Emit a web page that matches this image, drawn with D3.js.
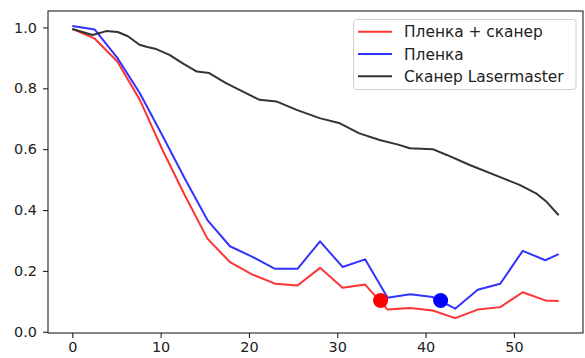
<!DOCTYPE html>
<html>
<head>
<meta charset="utf-8">
<script src="https://cdn.jsdelivr.net/npm/d3@7"></script>
<style>
  html, body { margin: 0; padding: 0; background: #fff; }
  svg { display: block; font-family: "DejaVu Sans", sans-serif; }
</style>
</head>
<body>
<svg id="chart" width="585" height="358"></svg>
<script>
// Shared sample positions for the film curves
const filmX = [0, 2.55, 5.1, 7.65, 10.2, 12.75, 15.3, 17.85, 20.4, 22.95, 25.5,
  28.05, 30.6, 33.15, 35.7, 38.25, 40.8, 43.35, 45.9, 48.45, 51.0, 53.55, 55.07];

// "Пленка + сканер"
const filmScanY = [0.995, 0.963, 0.888, 0.762, 0.598, 0.448, 0.306, 0.229, 0.188, 0.158,
  0.152, 0.210, 0.145, 0.155, 0.073, 0.078, 0.070, 0.045, 0.073, 0.081, 0.130, 0.103, 0.101];

// "Пленка"
const filmY = [1.005, 0.993, 0.900, 0.784, 0.645, 0.503, 0.367, 0.281, 0.246, 0.207,
  0.207, 0.297, 0.213, 0.238, 0.112, 0.123, 0.114, 0.076, 0.138, 0.158, 0.266, 0.235, 0.255];

// "Сканер Lasermaster"
const scannerX = [0, 2.3, 3.85, 5.15, 6.3, 7.6, 8.5, 9.5, 11.0, 12.6, 14.1, 15.5, 17.4,
  21.2, 23.1, 25.4, 28.0, 30.3, 32.5, 34.8, 36.9, 38.2, 40.8, 42.4, 45.0, 48.8, 50.7,
  52.5, 53.7, 55.07];
const scannerY = [0.995, 0.975, 0.988, 0.985, 0.971, 0.943, 0.936, 0.929, 0.910, 0.880,
  0.855, 0.850, 0.817, 0.762, 0.757, 0.729, 0.702, 0.685, 0.652, 0.630, 0.615, 0.603,
  0.600, 0.581, 0.548, 0.504, 0.482, 0.455, 0.427, 0.383];

// Highlighted points
const markerX = [34.9, 41.7];
const markerY = [0.103, 0.103];
const markerColors = ["#ff0000", "#0000ff"];

const seriesNames = ["Пленка + сканер", "Пленка", "Сканер Lasermaster"];
const seriesColors = ["#ff3333", "#3333ff", "#333333"];

const xTicks = [0, 10, 20, 30, 40, 50];
const yTicks = [0.0, 0.2, 0.4, 0.6, 0.8, 1.0];

const frame = { left: 48, top: 11, right: 583, bottom: 333 };

const svg = d3.select("#chart");

const x = d3.scaleLinear().domain([-2.75, 57.82]).range([frame.left, frame.right]);
const y = d3.scaleLinear().domain([-0.004, 1.054]).range([frame.bottom, frame.top]);

// Axes
const xAxis = d3.axisBottom(x).tickValues(xTicks).tickSize(5).tickPadding(4)
  .tickFormat(d3.format("d"));
const yAxis = d3.axisLeft(y).tickValues(yTicks).tickSize(5).tickPadding(6)
  .tickFormat(d3.format(".1f"));

const gx = svg.append("g").attr("transform", `translate(0,${frame.bottom})`).call(xAxis);
const gy = svg.append("g").attr("transform", `translate(${frame.left},0)`).call(yAxis);
[gx, gy].forEach(g => {
  g.select(".domain").remove();
  g.selectAll(".tick line").attr("stroke", "#222").attr("stroke-width", 1.1);
  g.selectAll(".tick text").attr("fill", "#222").style("font-size", "14.4px")
    .style("font-family", "'DejaVu Sans', sans-serif");
});

// Lines
const line = d3.line().x(d => x(d[0])).y(d => y(d[1]));
const series = [
  d3.zip(filmX, filmScanY),
  d3.zip(filmX, filmY),
  d3.zip(scannerX, scannerY)
];
series.forEach((pts, i) => {
  svg.append("path")
    .attr("d", line(pts))
    .attr("fill", "none")
    .attr("stroke", seriesColors[i])
    .attr("stroke-width", 2)
    .attr("stroke-linejoin", "round")
    .attr("stroke-linecap", "butt");
});

// Markers
svg.selectAll("circle.marker")
  .data(d3.range(markerX.length))
  .join("circle")
  .attr("class", "marker")
  .attr("cx", i => x(markerX[i]))
  .attr("cy", i => y(markerY[i]))
  .attr("r", 7.5)
  .attr("fill", i => markerColors[i]);

// Plot frame
svg.append("rect")
  .attr("x", frame.left).attr("y", frame.top)
  .attr("width", frame.right - frame.left).attr("height", frame.bottom - frame.top)
  .attr("fill", "none").attr("stroke", "#222").attr("stroke-width", 1.1);

// Legend
const legend = svg.append("g");
legend.append("rect")
  .attr("x", 353.5).attr("y", 19.5).attr("width", 222.5).attr("height", 70)
  .attr("rx", 3).attr("fill", "#fff").attr("fill-opacity", 0.8)
  .attr("stroke", "#d0d0d0").attr("stroke-width", 1);
seriesNames.forEach((name, i) => {
  const cy = 31.8 + i * 22.2;
  legend.append("line")
    .attr("x1", 358).attr("x2", 392).attr("y1", cy).attr("y2", cy)
    .attr("stroke", seriesColors[i]).attr("stroke-width", 2);
  legend.append("text")
    .attr("x", 404).attr("y", cy).attr("dy", "0.36em")
    .attr("fill", "#222").style("font-size", "15.4px")
    .text(name);
});
</script>
</body>
</html>
